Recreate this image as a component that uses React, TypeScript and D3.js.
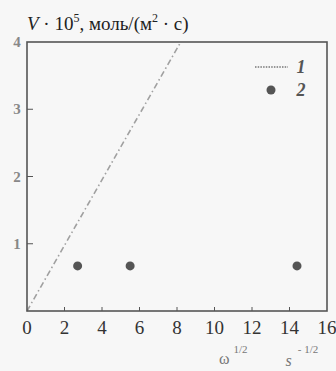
import React from "react";
import * as d3 from "d3";

const xTicks = [0, 2, 4, 6, 8, 10, 12, 14, 16];
const yTicks = [1, 2, 3, 4];
const lineX = [0, 8.2];
const lineY = [0, 4];
const pointX = [2.7, 5.5, 14.4];
const pointY = [0.67, 0.67, 0.67];

const W = 336;
const H = 371;

export default function App() {
  const x = d3.scaleLinear().domain([0, 16]).range([27, 327]);
  const y = d3.scaleLinear().domain([0, 4]).range([311, 42]);
  const linePts = lineX.map((v, i) => [v, lineY[i]] as [number, number]);
  const lineGen = d3.line<[number, number]>().x((d) => x(d[0])).y((d) => y(d[1]));
  const font = '"Liberation Serif", "Times New Roman", "DejaVu Serif", serif';
  const axisColor = "#555";
  return (
    <svg width={W} height={H} style={{ position: "absolute", left: 0, top: 0, fontFamily: font }}>
      <rect x={0} y={0} width={W} height={H} fill="#f7f7f7" />
      {/* data line 1 */}
      <path d={lineGen(linePts) || ""} fill="none" stroke="#a0a0a0" strokeWidth={1.6} strokeDasharray="6 3 1.5 3" />
      {/* frame */}
      <rect x={x(0)} y={y(4)} width={x(16) - x(0)} height={y(0) - y(4)} fill="none" stroke={axisColor} strokeWidth={1.6} />
      {/* x ticks */}
      {xTicks.map((t) => (
        <g key={"xt" + t}>
          {t > 0 && t < 16 && (
            <line x1={x(t)} x2={x(t)} y1={y(0)} y2={y(0) - 4} stroke={axisColor} strokeWidth={1} />
          )}
          <text x={x(t)} y={334} textAnchor="middle" fontSize={19} fill="#333" style={{ fontFamily: font }}>
            {t}
          </text>
        </g>
      ))}
      {/* y ticks */}
      {yTicks.map((t) => (
        <g key={"yt" + t}>
          {t < 4 && <line x1={x(0)} x2={x(0) + 6} y1={y(t)} y2={y(t)} stroke={axisColor} strokeWidth={1} />}
          <text x={17} y={y(t) + 5} textAnchor="middle" fontSize={15} fontWeight="bold" fill="#888" style={{ fontFamily: font }}>
            {t}
          </text>
        </g>
      ))}
      {/* points 2 */}
      {pointX.map((v, i) => (
        <circle key={"p" + i} cx={x(v)} cy={y(pointY[i])} r={4.5} fill="#555" />
      ))}
      {/* legend */}
      <line x1={255} x2={288} y1={67} y2={67} stroke="#777" strokeWidth={1.3} strokeDasharray="1.5 1.2" />
      <text x={301} y={73} textAnchor="middle" fontSize={18} fontStyle="italic" fontWeight="bold" fill="#555" style={{ fontFamily: font }}>
        1
      </text>
      <circle cx={271} cy={90} r={4.5} fill="#555" />
      <text x={301} y={96} textAnchor="middle" fontSize={18} fontStyle="italic" fontWeight="bold" fill="#555" style={{ fontFamily: font }}>
        2
      </text>
      {/* y title */}
      <text x={27} y={30} fontSize={19} fill="#222" style={{ fontFamily: font }}>
        <tspan fontStyle="italic">V</tspan>
        <tspan> · 10</tspan>
        <tspan dy={-8} fontSize={12}>5</tspan>
        <tspan dy={8}>, моль/(м</tspan>
        <tspan dy={-8} fontSize={12}>2</tspan>
        <tspan dy={8}> · с)</tspan>
      </text>
      {/* x title */}
      <text x={219} y={364} fontSize={16} fill="#777" style={{ fontFamily: font }}>
        <tspan>ω</tspan>
        <tspan dx={4} dy={-11} fontSize={11}>1/2</tspan>
        <tspan dx={38} dy={13} fontStyle="italic">s</tspan>
        <tspan dx={6} dy={-13} fontSize={11}>- 1/2</tspan>
      </text>
    </svg>
  );
}
